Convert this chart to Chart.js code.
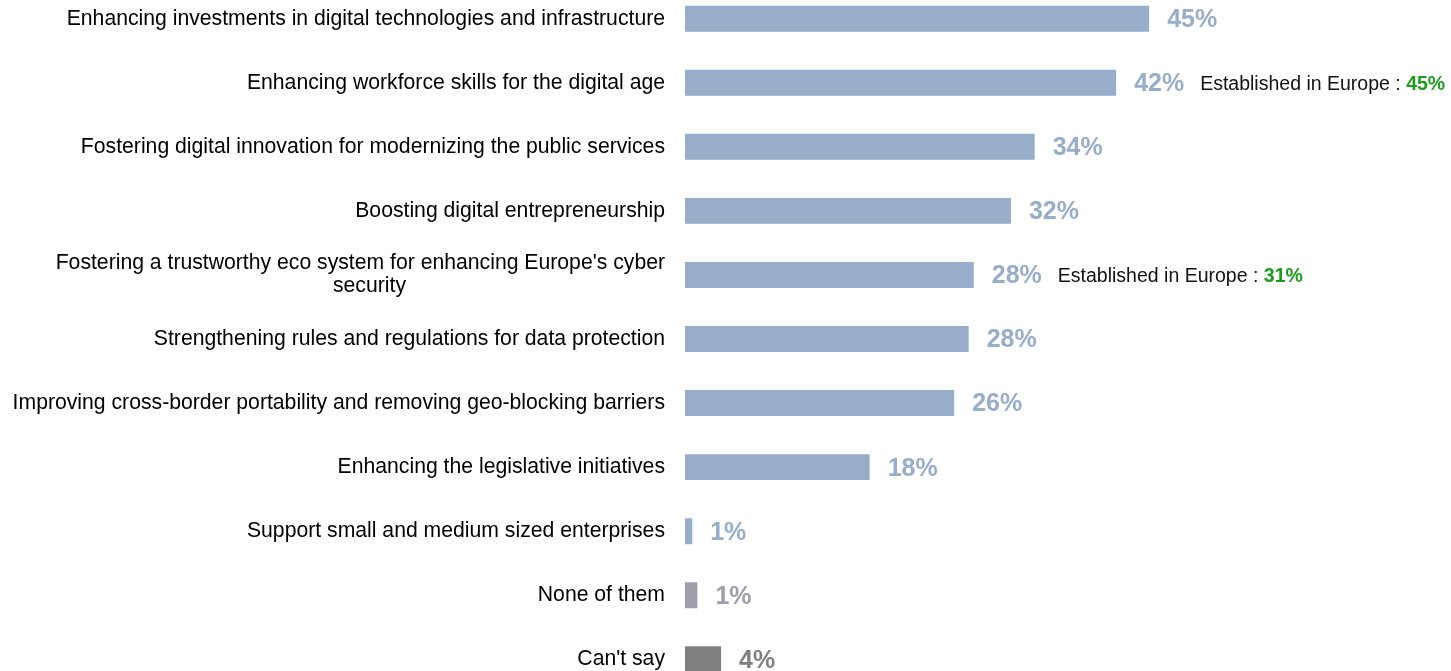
<!DOCTYPE html>
<html><head><meta charset="utf-8">
<script src="https://cdn.jsdelivr.net/npm/chart.js@4/dist/chart.umd.min.js"></script>
<style>
html,body{margin:0;padding:0;overflow:hidden;background:#fff;width:1451px;height:671px}
#wrap{position:absolute;left:0;top:-25px;width:1451px;height:728px}
</style>
</head><body><div id="wrap"><canvas id="c"></canvas></div>
<script>
const categories = [
  "Enhancing investments in digital technologies and infrastructure",
  "Enhancing workforce skills for the digital age",
  "Fostering digital innovation for modernizing the public services",
  "Boosting digital entrepreneurship",
  ["Fostering a trustworthy eco system for enhancing Europe's cyber", "security" + "\u00a0".repeat(44)],
  "Strengthening rules and regulations for data protection",
  "Improving cross-border portability and removing geo-blocking barriers",
  "Enhancing the legislative initiatives",
  "Support small and medium sized enterprises",
  "None of them",
  "Can't say"
];
const values = [45, 41.8, 33.9, 31.6, 28.0, 27.5, 26.1, 17.9, 0.7, 1.2, 3.5];
const valueLabels = ["45%","42%","34%","32%","28%","28%","26%","18%","1%","1%","4%"];
const barColors = ["#97aecb","#97aecb","#97aecb","#97aecb","#97aecb","#97aecb","#97aecb","#97aecb","#97aecb","#a19ca9","#808080"];
const noteIndex = [1, 4];
const noteText = ["Established in Europe : ", "Established in Europe : "];
const noteValues = ["45%", "31%"];

const labelPlugin = {
  id: 'valueLabels',
  afterDatasetsDraw(chart) {
    const ctx = chart.ctx;
    const meta = chart.getDatasetMeta(0);
    ctx.save();
    ctx.textBaseline = 'middle';
    ctx.textAlign = 'left';
    meta.data.forEach((bar, i) => {
      ctx.font = 'bold 25px "Liberation Sans", Arial, sans-serif';
      ctx.fillStyle = barColors[i];
      const x0 = bar.x + 18;
      ctx.fillText(valueLabels[i], x0, bar.y + 1.5);
      const w = ctx.measureText(valueLabels[i]).width;
      const k = noteIndex.indexOf(i);
      if (k >= 0) {
        let nx = x0 + w + 16;
        ctx.font = '19.5px "Liberation Sans", Arial, sans-serif';
        ctx.fillStyle = '#111';
        ctx.fillText(noteText[k], nx, bar.y + 1.5);
        nx += ctx.measureText(noteText[k]).width;
        ctx.font = 'bold 19.5px "Liberation Sans", Arial, sans-serif';
        ctx.fillStyle = '#1b9c1b';
        ctx.fillText(noteValues[k], nx, bar.y + 1.5);
      }
    });
    ctx.restore();
  }
};

new Chart(document.getElementById('c'), {
  type: 'bar',
  data: {
    labels: categories,
    datasets: [{
      data: values,
      backgroundColor: barColors,
      borderWidth: 0,
      categoryPercentage: 1,
      barPercentage: 0.405
    }]
  },
  options: {
    indexAxis: 'y',
    responsive: true,
    maintainAspectRatio: false,
    animation: false,
    layout: { padding: { left: 0, right: 44, top: 0, bottom: 0 } },
    plugins: { legend: { display: false }, tooltip: { enabled: false } },
    scales: {
      x: { display: false, min: 0, max: 70 },
      y: {
        grid: { display: false, drawTicks: true, tickLength: 20 },
        border: { display: false },
        ticks: {
          color: '#000',
          padding: 0,
          font: { family: '"Liberation Sans", Arial, sans-serif', size: 21.2, lineHeight: 1.1 }
        },
        afterFit(scale) { scale.width = 685; }
      }
    }
  },
  plugins: [labelPlugin]
});
</script>
</body></html>
